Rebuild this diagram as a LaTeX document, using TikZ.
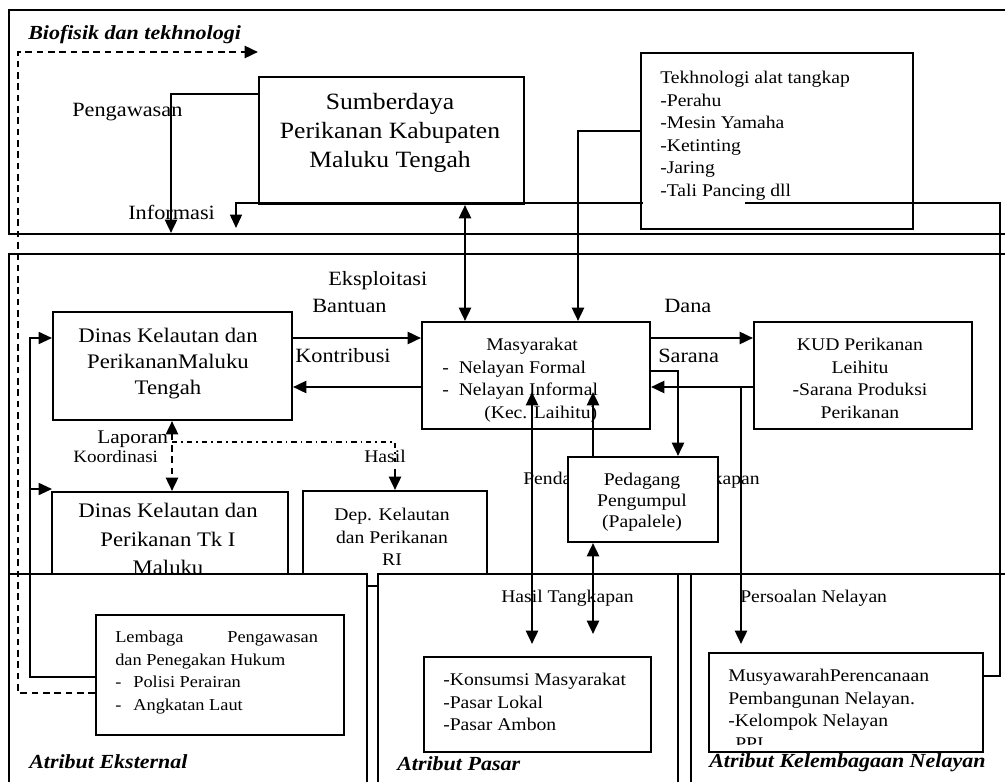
\documentclass[tikz,border=0pt]{standalone}
\usepackage{fontspec}
\setmainfont[FakeStretch=1.1]{Liberation Serif}
\usetikzlibrary{arrows.meta}
\tikzset{
 sec/.style={draw=black, line width=1.2pt},
 box/.style={draw=black, fill=white, line width=1.5pt, inner sep=0pt, rectangle},
 txt/.style={inner sep=0pt, align=center},
 ln/.style={line width=1.85pt},
 tip/.style={-{Triangle[length=10pt,width=9pt]}},
 tips/.style={{Triangle[length=10pt,width=9pt]}-{Triangle[length=10pt,width=9pt]}},
 dsh/.style={dash pattern=on 5pt off 3.5pt},
 dshdot/.style={dash pattern=on 4pt off 3pt on 1.2pt off 3pt},
 fA/.style={font=\fontsize{15.2}{18}\selectfont},
 fD/.style={font=\fontsize{15.5}{19.5}\selectfont},
 fS/.style={font=\fontsize{17.5}{21.75}\selectfont},
 fB/.style={font=\fontsize{13.4}{16.9}\selectfont},
 fL/.style={font=\fontsize{12.5}{17}\selectfont},
 fI/.style={font=\fontsize{15}{18}\selectfont\bfseries\itshape},
}
\newcommand{\mybox}[5]{\node[box, minimum width=#4*0.75pt, minimum height=#5*0.75pt] (#1) at (#2,#3) {};}
\begin{document}
\begin{tikzpicture}[x=0.75pt,y=-0.75pt]
\useasboundingbox (0,0) rectangle (1005,781);
\clip (0,0) rectangle (1005,781);
\fill[white] (0,0) rectangle (1005,781);

% section frames
\draw[sec] (9,10) rectangle (1015,234);
\draw[sec] (9,254) rectangle (1015,574);

% labels
\node[txt, fI, anchor=base west] (lbio) at (28,40) {Biofisik dan tekhnologi};
\node[txt, fA, anchor=base west] (lpeng) at (72,117) {Pengawasan};
\node[txt, fA, anchor=base west] (linfo) at (128,219) {Informasi};
\node[txt, fA, anchor=base west] (leks) at (328,285) {Eksploitasi};
\node[txt, fA, anchor=base west] (lban) at (312,312) {Bantuan};
\node[txt, fA, anchor=base west] (lkon) at (295,362) {Kontribusi};
\node[txt, fA, anchor=base west] (ldana) at (664,312) {Dana};
\node[txt, fA, anchor=base west] (lsar) at (658,362) {Sarana};
\node[txt, font=\fontsize{14.5}{17}\selectfont, anchor=base west] (llap) at (97,443) {Laporan};
\node[txt, font=\fontsize{13}{16}\selectfont, anchor=base west] (lkoo) at (73,462) {Koordinasi};
\node[txt, fB, anchor=base west] (lhas) at (364,462) {Hasil};
\node[txt, fB, anchor=base west] (lpend) at (523,484) {Penda};
\node[txt, fB, anchor=base east] (lkap) at (760,484) {kapan};

% boxes in the upper sections
\mybox{sd}{391.5}{140.5}{265}{127}
\node[txt, fS, anchor=north] (sdt) at (390,93) {Sumberdaya\\Perikanan Kabupaten\\Maluku Tengah};
\mybox{tk}{777}{141}{272}{176}
\node[txt, fB, align=left, anchor=north west] (tkt) at (660,71) {Tekhnologi alat tangkap\\-Perahu\\-Mesin Yamaha\\-Ketinting\\-Jaring\\-Tali Pancing dll};
\mybox{dmt}{172.5}{366}{239}{108}
\node[txt, fD, anchor=north] (dmtt) at (168,328) {Dinas Kelautan dan\\PerikananMaluku\\Tengah};
\mybox{ms}{536}{375.5}{228}{107}
\node[txt, fB, align=left, anchor=north west] (mst) at (442,338) {\hspace*{33pt}Masyarakat\\-\hspace{7.5pt}Nelayan Formal\\-\hspace{7.5pt}Nelayan Informal\\\hspace*{31.5pt}(Kec. Laihitu)};
\mybox{kud}{863}{375.5}{218}{107}
\node[txt, fB, anchor=north] (kudt) at (860,338) {KUD Perikanan\\Leihitu\\-Sarana Produksi\\Perikanan};
\mybox{pd}{643}{499.5}{150}{85}
\node[txt, font=\fontsize{13.4}{15.8}\selectfont, anchor=north] (pdt) at (642,473) {Pedagang\\Pengumpul\\(Papalele)};
\mybox{dtk}{170}{546}{236}{108}
\node[txt, font=\fontsize{15.5}{21.5}\selectfont, anchor=north] (dtkt) at (168,503) {Dinas Kelautan dan\\Perikanan Tk I\\Maluku};
\mybox{dep}{395}{538.5}{184}{95}
\node[txt, fB, anchor=north] (dept) at (392,508) {Dep. Kelautan\\dan Perikanan\\RI};

% bottom sections
\draw[sec, fill=white] (9,574) rectangle (367,795);
\draw[sec, fill=white] (378,574) rectangle (678,795);
\draw[sec, fill=white] (691,574) rectangle (1015,795);
\node[txt, fI, anchor=base west] (lext) at (29,768) {Atribut Eksternal};
\node[txt, fI, anchor=base west] (lpas) at (397,770) {Atribut Pasar};
\node[txt, fI, anchor=base west] (lkel) at (709,767) {Atribut Kelembagaan Nelayan};
\node[txt, fB, anchor=base west] (lht) at (501,602) {Hasil Tangkapan};
\node[txt, fB, anchor=base west] (lper) at (740,602) {Persoalan Nelayan};

\mybox{lem}{220}{675}{248}{120}
\node[txt, fL, align=left, anchor=north west] (lemt) at (115,630.5) {\hbox to 152pt{Lembaga\hfill Pengawasan}\\dan Penegakan Hukum\\-\hspace{9pt}Polisi Perairan\\-\hspace{9pt}Angkatan Laut};
\mybox{kon}{537.5}{704.5}{227}{95}
\node[txt, fB, align=left, anchor=north west] (kont) at (443,673) {-Konsumsi Masyarakat\\-Pasar Lokal\\-Pasar Ambon};
\mybox{mus}{846}{702.5}{274}{99}
\node[txt, fB, align=left, anchor=north west] (must) at (728,669) {MusyawarahPerencanaan\\Pembangunan Nelayan.\\-Kelompok Nelayan};
\begin{scope}
\clip (709,653) rectangle (983,744);
\node[txt, fB, anchor=base west] (ppi) at (735,749) {PPI};
\end{scope}

% connectors
\coordinate (p1) at (18,693);
\coordinate (p2) at (18,52);
\coordinate (bioend) at (258,52);
\draw[ln, dsh, tip] (lem.west |- p1) -- (p1) -- (p2) -- (bioend);

\coordinate (q1) at (171,94);
\coordinate (q2) at (171,233);
\draw[ln, tip] (sd.west |- q1) -- (q1) -- (q2);

\coordinate (r1) at (1000,676);
\coordinate (r2) at (1000,203);
\coordinate (r3) at (236,203);
\coordinate (r4) at (236,228);
\draw[line width=1.1pt, tip] (mus.east |- r1) -- (r1) -- (r2) -- (r3) -- (r4);
\fill[white] (642.7,198) rectangle (745,209);

\coordinate (s465) at (465,0);
\draw[ln, tips] (sd.south -| s465) -- (ms.north -| s465);
\coordinate (t1) at (578,131);
\draw[ln, tip] (tk.west |- t1) -- (t1) -- (ms.north -| t1);

\coordinate (y338) at (0,338);
\coordinate (y387) at (0,387);
\draw[ln, tip] (dmt.east |- y338) -- (ms.west |- y338);
\draw[ln, tip] (ms.west |- y387) -- (dmt.east |- y387);
\draw[ln, tip] (ms.east |- y338) -- (kud.west |- y338);
\draw[ln, tip] (kud.west |- y387) -- (ms.east |- y387);

\coordinate (u1) at (678,371);
\draw[ln, tip] (ms.east |- u1) -- (u1) -- (pd.north -| u1);
\coordinate (v1) at (593,392);
\draw[ln, tip] (pd.north -| v1) -- (v1);
\coordinate (w1) at (532,392);
\draw[ln, tips, shorten >=9pt] (w1) -- (kon.north -| w1);
\draw[ln, tips, shorten >=16.5pt] (pd.south -| v1) -- (kon.north -| v1);
\coordinate (k1) at (741,388);
\draw[ln, tip, shorten >=6pt] (k1) -- (mus.north -| k1);

\coordinate (m1) at (30,677);
\coordinate (m2) at (30,338);
\coordinate (m3) at (30,489);
\coordinate (m4) at (52,489);
\draw[line width=1.3pt, tip] (lem.west |- m1) -- (m1) -- (m2) -- (dmt.west |- m2);
\draw[line width=1.3pt, tip] (m3) -- (m4);

\coordinate (n1) at (172,0);
\draw[ln, dsh, tips] (dmt.south -| n1) -- (dtk.north -| n1);
\coordinate (h1) at (172,442);
\coordinate (h2) at (395,442);
\coordinate (h3) at (395,462);
\coordinate (h4) at (395,469);
\draw[line width=1.1pt, dshdot] (h1) -- (h2) -- (h3);
\draw[ln, tip] (h4) -- (dep.north -| h4);
\end{tikzpicture}
\end{document}
